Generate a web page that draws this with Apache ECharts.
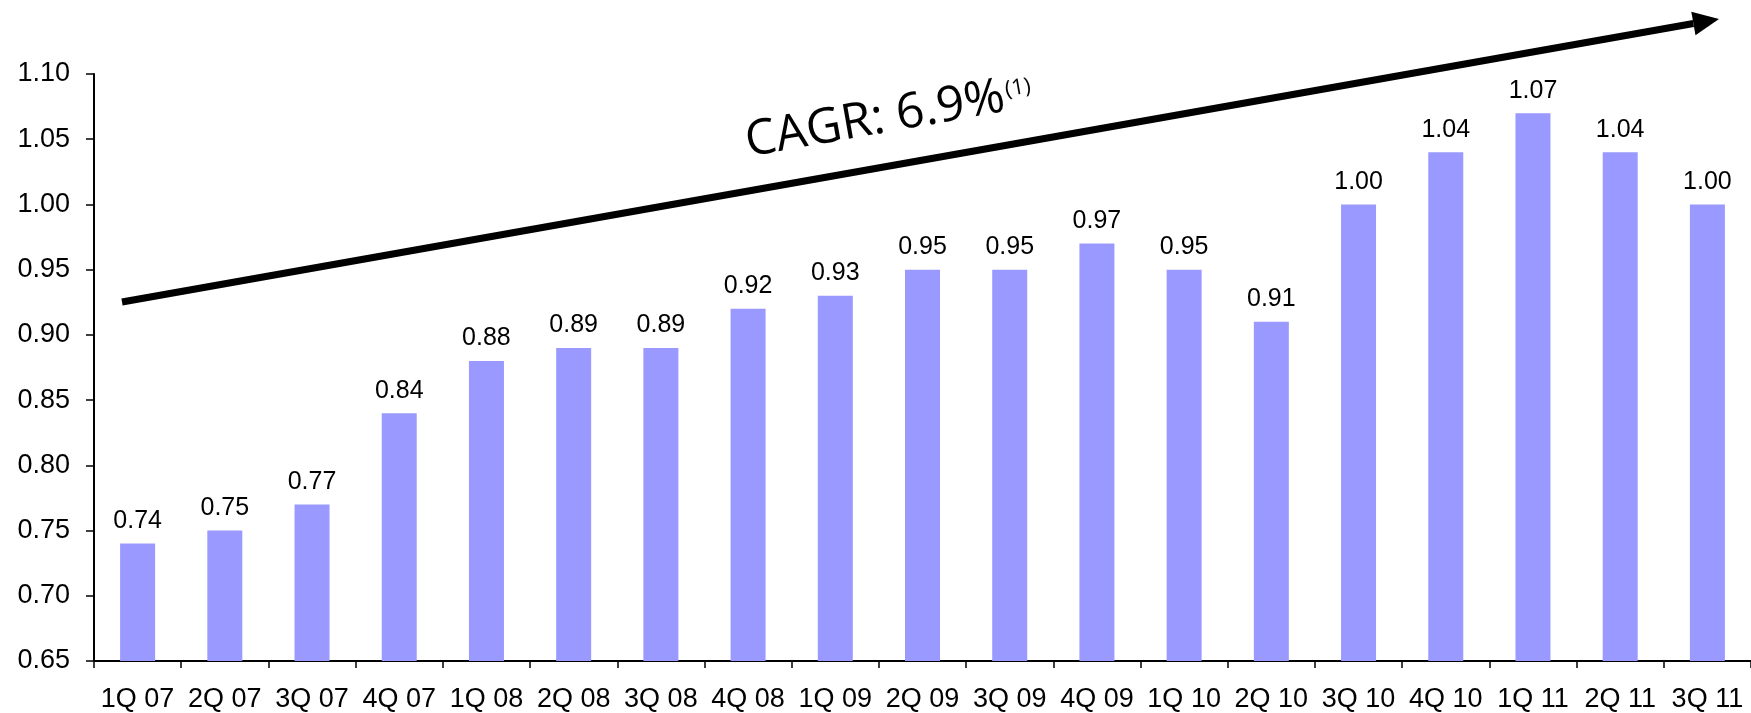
<!DOCTYPE html>
<html>
<head>
<meta charset="utf-8">
<script src="https://cdn.jsdelivr.net/npm/echarts@6/dist/echarts.min.js"></script>
<style>
  html, body { margin: 0; padding: 0; background: #fff; }
  #chart { width: 1751px; height: 713px; }
</style>
</head>
<body>
<div id="chart"></div>
<script>
// Quarterly values
const quarters = ['1Q 07','2Q 07','3Q 07','4Q 07','1Q 08','2Q 08','3Q 08','4Q 08','1Q 09','2Q 09',
                  '3Q 09','4Q 09','1Q 10','2Q 10','3Q 10','4Q 10','1Q 11','2Q 11','3Q 11'];
const values = [0.74, 0.75, 0.77, 0.84, 0.88, 0.89, 0.89, 0.92, 0.93, 0.95,
                0.95, 0.97, 0.95, 0.91, 1.00, 1.04, 1.07, 1.04, 1.00];
const yMin = 0.65, yMax = 1.10, yStep = 0.05;
const cagrText = 'CAGR: 6.9%';
const cagrNote = '(1)';

const chart = echarts.init(document.getElementById('chart'), null, { renderer: 'canvas' });

// Trend arrow geometry (decoration)
const start = [122, 302], tip = [1719, 19];
const dx = tip[0] - start[0], dy = tip[1] - start[1];
const len = Math.hypot(dx, dy);
const ux = dx / len, uy = dy / len, nx = -uy, ny = ux;
const headLen = 26, headHalf = 12;
const base = [tip[0] - ux * headLen, tip[1] - uy * headLen];
const angle = Math.atan2(-dy, dx);

const font = '"Liberation Sans", Arial, sans-serif';
const noteFont = '"Open Sans", "Noto Sans", sans-serif';

chart.setOption({
  backgroundColor: '#ffffff',
  animation: false,
  grid: { left: 94, top: 74, bottom: 51, width: 1660, containLabel: false },
  xAxis: {
    type: 'category',
    data: quarters,
    boundaryGap: true,
    axisLine: { lineStyle: { color: '#000', width: 2 } },
    axisTick: { show: true, length: 7, lineStyle: { color: '#000', width: 1.5 } },
    axisLabel: { color: '#000', fontSize: 27, fontFamily: font, margin: 25, interval: 0 }
  },
  yAxis: {
    type: 'value',
    min: yMin, max: yMax, interval: yStep,
    splitLine: { show: false },
    axisLine: { show: true, lineStyle: { color: '#000', width: 2 } },
    axisTick: { show: true, length: 8, lineStyle: { color: '#000', width: 1.5 } },
    axisLabel: { color: '#000', fontSize: 27, fontFamily: font, margin: 24,
                 formatter: v => v.toFixed(2) }
  },
  series: [{
    type: 'bar',
    data: values,
    barWidth: 35,
    itemStyle: { color: '#9999FF' },
    label: {
      show: true, position: 'top', distance: 10,
      color: '#000', fontSize: 25, fontFamily: font,
      formatter: p => p.value.toFixed(2)
    }
  }],
  graphic: [
    {
      type: 'line',
      shape: { x1: start[0], y1: start[1], x2: base[0], y2: base[1] },
      style: { stroke: '#000', lineWidth: 7 }
    },
    {
      type: 'polygon',
      shape: { points: [
        tip,
        [base[0] + nx * headHalf, base[1] + ny * headHalf],
        [base[0] - nx * headHalf, base[1] - ny * headHalf]
      ] },
      style: { fill: '#000' }
    },
    {
      type: 'text',
      x: 750, y: 167,
      rotation: angle,
      style: {
        text: '{a|' + cagrText + '}{b|' + cagrNote + '}',
        textVerticalAlign: 'bottom',
        verticalAlign: 'bottom',
        rich: {
          a: { fontSize: 49, fontFamily: noteFont, fill: '#000', color: '#000' },
          b: { fontSize: 22, fontFamily: noteFont, fill: '#000', color: '#000', verticalAlign: 'top', padding: [7, 0, 0, 2] }
        }
      }
    }
  ]
});
</script>
</body>
</html>
